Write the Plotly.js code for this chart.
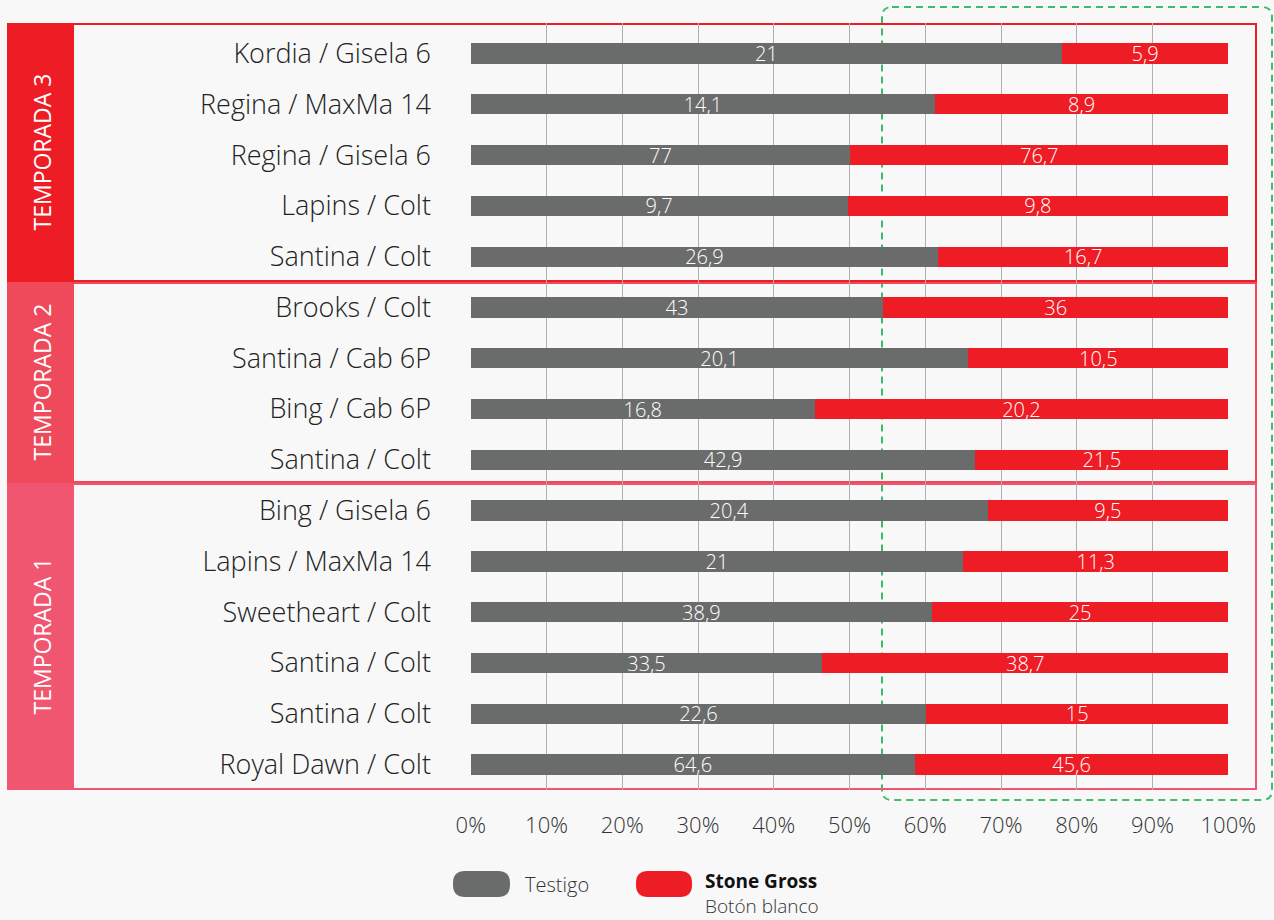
<!DOCTYPE html>
<html>
<head>
<meta charset="utf-8">
<script src="https://cdn.plot.ly/plotly-3.0.1.min.js"></script>
<style>
html,body{margin:0;padding:0;background:#f8f8f8;}
#chart{width:1274px;height:920px;}
</style>
</head>
<body>
<div id="chart"></div>
<script>
// ---- data ----
const categories = [
  "Kordia / Gisela 6", "Regina / MaxMa 14", "Regina / Gisela 6", "Lapins / Colt", "Santina / Colt",
  "Brooks / Colt", "Santina / Cab 6P", "Bing / Cab 6P", "Santina / Colt",
  "Bing / Gisela 6", "Lapins / MaxMa 14", "Sweetheart / Colt", "Santina / Colt", "Santina / Colt", "Royal Dawn / Colt"
];
const testigo = [21, 14.1, 77, 9.7, 26.9, 43, 20.1, 16.8, 42.9, 20.4, 21, 38.9, 33.5, 22.6, 64.6];
const stoneGross = [5.9, 8.9, 76.7, 9.8, 16.7, 36, 10.5, 20.2, 21.5, 9.5, 11.3, 25, 38.7, 15, 45.6];
const seasons = ["TEMPORADA 3", "TEMPORADA 2", "TEMPORADA 1"];
const xTickVals = [0, 10, 20, 30, 40, 50, 60, 70, 80, 90, 100];
const xTickText = ["0%", "10%", "20%", "30%", "40%", "50%", "60%", "70%", "80%", "90%", "100%"];
const seriesNames = ["Testigo", "Stone Gross"];
const seriesSubtitle = "Botón blanco";

// ---- layout helpers (pixel -> paper) ----
const L = 470, R = 1229, T = 23, B = 790;
const px = x => (x - L) / (R - L);
const py = y => 1 - (y - T) / (B - T);
const fmt = v => String(v).replace('.', ',');
const idx = categories.map((c, i) => i);

function roundRect(x0, y0, x1, y1, r) {
  return `M ${px(x0 + r)} ${py(y0)} L ${px(x1 - r)} ${py(y0)} Q ${px(x1)} ${py(y0)} ${px(x1)} ${py(y0 + r)} ` +
         `L ${px(x1)} ${py(y1 - r)} Q ${px(x1)} ${py(y1)} ${px(x1 - r)} ${py(y1)} ` +
         `L ${px(x0 + r)} ${py(y1)} Q ${px(x0)} ${py(y1)} ${px(x0)} ${py(y1 - r)} ` +
         `L ${px(x0)} ${py(y0 + r)} Q ${px(x0)} ${py(y0)} ${px(x0 + r)} ${py(y0)} Z`;
}

const FONT = "'Open Sans', Roboto, sans-serif";
const GRAY = "#6a6c6c", RED = "#ee1c25";

const traces = [
  {
    type: 'bar', orientation: 'h', name: seriesNames[0],
    y: idx, x: testigo, text: testigo.map(fmt), texttemplate: '%{text}',
    textposition: 'inside', insidetextanchor: 'middle', constraintext: 'none', textangle: 0,
    textfont: {family: FONT, size: 20, color: '#ffffff', weight: 300},
    marker: {color: GRAY}, width: 0.4, hoverinfo: 'skip'
  },
  {
    type: 'bar', orientation: 'h', name: seriesNames[1],
    y: idx, x: stoneGross, text: stoneGross.map(fmt), texttemplate: '%{text}',
    textposition: 'inside', insidetextanchor: 'middle', constraintext: 'none', textangle: 0,
    textfont: {family: FONT, size: 20, color: '#ffffff', weight: 300},
    marker: {color: RED}, width: 0.4, hoverinfo: 'skip'
  }
];

// season boxes
const boxColors = ["#ee1d25", "#ef4a5c", "#f05670"];
const boxEdges = [23, 282, 483, 790];
const shapes = [];
const annotations = [];

// green dashed rounded rectangle
shapes.push({type: 'path', xref: 'paper', yref: 'paper', layer: 'below',
  path: roundRect(882, 7, 1272, 800, 10),
  line: {color: '#3dba6b', width: 2, dash: '7px,5px'}, fillcolor: 'rgba(0,0,0,0)'});

for (let s = 0; s < seasons.length; s++) {
  const y0 = boxEdges[s], y1 = boxEdges[s + 1];
  shapes.push({type: 'rect', xref: 'paper', yref: 'paper', layer: 'below',
    x0: px(8), x1: px(1256), y0: py(y0 + 1), y1: py(y1 - 1),
    line: {color: boxColors[s], width: 2}, fillcolor: 'rgba(0,0,0,0)'});
  shapes.push({type: 'rect', xref: 'paper', yref: 'paper', layer: 'below',
    x0: px(8), x1: px(74), y0: py(y0), y1: py(y1),
    line: {width: 0}, fillcolor: boxColors[s]});
  annotations.push({xref: 'paper', yref: 'paper', x: px(41), y: py((y0 + y1) / 2),
    xanchor: 'center', yanchor: 'middle',
    text: seasons[s], showarrow: false, textangle: -90,
    font: {family: FONT, size: 23, color: '#ffffff', weight: 400}});
}

// legend
shapes.push({type: 'path', xref: 'paper', yref: 'paper', path: roundRect(453, 871, 510, 897, 12),
  fillcolor: GRAY, line: {width: 0}});
shapes.push({type: 'path', xref: 'paper', yref: 'paper', path: roundRect(636, 871, 692, 897, 12),
  fillcolor: RED, line: {width: 0}});
annotations.push({xref: 'paper', yref: 'paper', x: px(523), y: py(884), xanchor: 'left', yanchor: 'middle',
  text: seriesNames[0], showarrow: false, font: {family: FONT, size: 20, color: '#333333', weight: 300}});
annotations.push({xref: 'paper', yref: 'paper', x: px(704), y: py(893), xanchor: 'left', yanchor: 'middle',
  align: 'left', borderpad: 0,
  text: '<b style="color:#111111">' + seriesNames[1] + '</b><br>' + seriesSubtitle,
  showarrow: false, font: {family: FONT, size: 19, color: '#333333', weight: 300}});

const layout = {
  width: 1274, height: 920,
  margin: {l: L, r: 1274 - R, t: T, b: 920 - B, pad: 0},
  paper_bgcolor: '#f8f8f8', plot_bgcolor: 'rgba(0,0,0,0)',
  barmode: 'stack', barnorm: 'percent', bargap: 0.6,
  showlegend: false,
  xaxis: {
    range: [-0.1, 100.1], tickvals: xTickVals, ticktext: xTickText,
    showgrid: true, gridcolor: '#b0b0b0', gridwidth: 1, zeroline: false,
    showline: false, ticks: '', ticklabelstandoff: 20,
    tickfont: {family: FONT, size: 22, color: '#333333', weight: 300}, fixedrange: true
  },
  yaxis: {
    range: [14.5, -0.6], tickvals: idx, ticktext: categories,
    showgrid: false, zeroline: false, showline: false, ticks: '',
    ticklabelstandoff: 38,
    tickfont: {family: FONT, size: 27, color: '#222222', weight: 300}, fixedrange: true
  },
  shapes: shapes,
  annotations: annotations,
  font: {family: FONT}
};

Plotly.newPlot('chart', traces, layout, {displayModeBar: false, staticPlot: true});
</script>
</body>
</html>
